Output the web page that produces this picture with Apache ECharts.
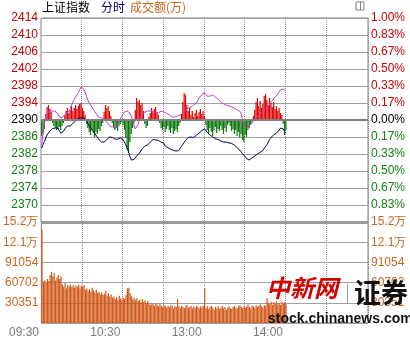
<!DOCTYPE html>
<html><head><meta charset="utf-8">
<script src="https://cdn.jsdelivr.net/npm/echarts@6/dist/echarts.min.js"></script>
<style>html,body{margin:0;padding:0;background:#fff}#c{width:410px;height:340px}</style>
</head><body><div id="c"></div>
<script>
// ---- categories: trading minutes (11:30 and 13:00 share one slot) ----
const times = [];
for (let m = 0; m <= 240; m++) {
  const t = m < 120 ? 570 + m : 780 + (m - 120);
  times.push(String(Math.floor(t / 60)).padStart(2, '0') + ':' + String(t % 60).padStart(2, '0'));
}
const timeLabels = ['09:30', '10:30', '13:00', '14:00'];

// ---- tick labels ----
const priceTicks = [2414, 2410, 2406, 2402, 2398, 2394, 2390, 2386, 2382, 2378, 2374, 2370];
const pctLabels = ['1.00%', '0.83%', '0.67%', '0.50%', '0.33%', '0.17%', '0.00%', '0.17%', '0.33%', '0.50%', '0.67%', '0.83%'];
const volLabels = ['30351', '60702', '91054', '12.1万', '15.2万'];
const prevClose = 2390;

// ---- series values ----
const indexLine = [
2383.4,2384.2,2384.9,2385.8,2386.5,2386.9,2387.4,2387.8,2388.0,2388.1,
2388.1,2388.2,2388.1,2387.5,2386.9,2386.8,2387.3,2387.9,2388.2,2388.6,
2388.6,2388.6,2388.8,2389.2,2389.4,2389.8,2390.1,2390.4,2390.5,2390.5,
2390.5,2390.5,2390.2,2389.9,2389.2,2388.7,2388.1,2387.8,2387.4,2386.9,
2386.5,2386.0,2385.5,2385.1,2384.8,2384.6,2384.8,2385.1,2385.4,2385.6,
2386.0,2386.0,2385.9,2385.8,2385.5,2385.5,2385.5,2385.8,2385.8,2385.6,
2385.3,2384.8,2384.4,2383.5,2382.5,2381.5,2380.6,2380.6,2380.7,2381.1,
2381.5,2381.9,2382.2,2382.7,2383.2,2383.6,2383.9,2384.0,2384.1,2384.5,
2384.8,2385.1,2385.4,2385.4,2385.3,2385.3,2385.2,2385.1,2384.8,2384.7,
2384.5,2383.9,2383.6,2383.5,2383.3,2383.1,2382.9,2382.9,2382.8,2382.7,
2382.7,2382.8,2383.3,2383.8,2384.2,2384.7,2385.2,2385.6,2385.9,2386.0,
2386.0,2385.9,2385.9,2386.0,2386.4,2386.6,2386.9,2387.3,2387.5,2387.6,
2387.9,2387.5,2387.1,2386.8,2386.5,2386.1,2386.0,2385.9,2385.6,2385.5,
2385.4,2385.2,2385.1,2384.9,2384.8,2384.8,2384.8,2384.7,2384.6,2384.6,
2384.5,2384.4,2384.1,2383.9,2383.5,2383.2,2382.9,2382.6,2382.1,2381.8,
2381.4,2380.9,2380.7,2380.6,2380.8,2381.1,2381.3,2381.5,2381.9,2382.0,
2382.2,2382.4,2382.6,2382.8,2383.3,2383.6,2384.2,2384.8,2385.4,2385.9,
2386.2,2386.5,2386.7,2386.9,2387.3,2387.6,2388.1,2388.2,2387.9,2387.3,2386.9
];
const leadLine = [
2384.1,2386.9,2389.1,2390.9,2391.6,2391.9,2392.1,2392.1,2392.1,2392.1,
2392.1,2391.9,2391.4,2390.7,2390.5,2390.5,2390.9,2391.2,2391.4,2391.6,
2392.1,2392.6,2393.5,2394.2,2394.9,2395.4,2395.6,2396.4,2397.1,2397.8,
2398.0,2397.3,2396.6,2395.6,2394.7,2394.0,2393.5,2393.1,2392.6,2392.1,
2391.6,2391.2,2390.7,2390.7,2390.5,2390.5,2390.2,2389.8,2389.5,2389.1,
2388.6,2388.4,2388.4,2388.1,2388.1,2388.6,2389.1,2389.5,2390.2,2390.9,
2391.4,2391.9,2392.1,2392.1,2391.9,2391.6,2390.9,2390.0,2388.8,2387.9,
2387.6,2388.8,2390.0,2390.7,2391.2,2391.6,2391.9,2391.9,2392.1,2392.1,
2392.1,2391.9,2391.9,2391.9,2391.6,2391.6,2391.6,2391.9,2392.1,2392.1,
2391.9,2391.6,2391.6,2391.4,2391.2,2390.9,2390.7,2390.7,2390.7,2390.9,
2390.9,2390.9,2391.2,2391.4,2391.6,2391.9,2392.4,2392.6,2392.8,2392.8,
2393.1,2393.3,2393.5,2393.8,2394.0,2394.5,2395.2,2395.6,2395.9,2396.4,
2396.6,2396.1,2395.6,2395.6,2395.6,2395.9,2395.9,2395.6,2395.4,2395.2,
2394.9,2394.7,2394.2,2394.0,2393.8,2393.5,2393.5,2393.3,2393.3,2393.1,
2393.1,2392.8,2392.8,2392.6,2392.4,2392.1,2392.1,2391.6,2390.0,2388.8,
2388.6,2388.1,2388.4,2388.6,2388.8,2389.3,2389.8,2390.2,2390.5,2390.7,
2391.2,2391.4,2391.6,2392.1,2392.4,2392.8,2393.1,2393.3,2393.8,2394.0,
2394.5,2394.9,2395.4,2395.6,2396.1,2396.6,2397.1,2397.5,2397.3,2397.1,2396.8
];
const strength = [
-16,-14,-9,6,13,15,11,8,-3,-6,
-8,-10,-9,-7,-10,-6,-3,5,9,12,
7,10,14,9,12,15,11,14,16,17,
12,9,5,-4,-8,-12,-15,-10,-13,-17,
-12,-14,-9,-11,-6,-3,8,15,12,14,
9,4,-3,-7,-10,-8,-11,-6,-4,-2,
-5,-10,-18,-30,-33,-22,-14,-8,-3,10,
22,18,20,15,17,9,-4,-8,-6,3,
7,12,9,11,13,8,5,-3,-8,-10,
-7,-12,-9,-6,-10,-13,-8,-14,-11,-9,
-12,-6,-3,6,18,27,25,15,9,12,
5,9,3,7,10,4,8,11,6,9,
4,-5,-10,-14,-8,-12,-16,-10,-7,-13,
-9,-11,-6,-10,-14,-8,-12,-5,-3,-6,
-11,-9,-14,-10,-16,-12,-18,-14,-20,-22,
-15,-17,-10,-8,-5,-2,4,10,18,22,
14,19,12,16,24,26,20,15,22,17,
13,18,11,14,9,12,7,5,-4,-15,-10
];
const volume = [
140000,
62000,64000,60000,66000,63000,
72000,77000,70000,75000,
64000,68000,72000,66000,70000,
58000,55000,60000,52000,57000,
55000,58000,54000,57000,53000,56000,55000,58000,52000,56000,54000,57000,
50000,52000,48000,51000,47000,53000,49000,46000,50000,45000,
47000,43000,46000,42000,44000,48000,41000,45000,40000,
43000,38000,40000,36000,39000,35000,41000,37000,34000,38000,
36000,42000,52000,53000,45000,
40000,36000,38000,34000,37000,33000,
35000,31000,36000,32000,34000,30000,33000,
29000,27000,30000,28000,26000,29000,27000,25000,28000,
26000,24000,27000,25000,23000,26000,24000,27000,25000,22000,26000,24000,
36000,
25000,23000,26000,24000,22000,25000,27000,23000,24000,26000,22000,25000,23000,26000,24000,22000,25000,23000,26000,
52000,
22000,25000,21000,24000,26000,23000,20000,24000,22000,25000,21000,23000,26000,22000,24000,
20000,23000,25000,22000,21000,24000,26000,23000,22000,25000,27000,24000,22000,26000,23000,
25000,28000,24000,22000,26000,25000,23000,27000,24000,26000,28000,25000,23000,27000,25000,
37000,30000,28000,32000,27000,31000,29000,33000,28000,30000,27000,32000,29000,31000,28000
];

// ---- styling ----
const FONT = 'Liberation Sans';
const RED = '#c80000', GREEN = '#118011', ORANGE = '#c8641e';
const VOL_UNIT = 30351;

const chart = echarts.init(document.getElementById('c'), null, {renderer: 'canvas'});
const vSplit = {show: true, interval: (i) => i % 30 === 0 && i > 0 && i < 240, lineStyle: {color: '#8c8c8c', type: [1, 1], width: 1}};
const hSplit = {show: true, lineStyle: {color: '#a0a0a0', width: 1}};
const rich = {
  r: {color: RED, fontSize: 12, fontFamily: FONT},
  g: {color: GREEN, fontSize: 12, fontFamily: FONT},
  k: {color: '#000', fontSize: 12, fontFamily: FONT},
  o: {color: ORANGE, fontSize: 12, fontFamily: FONT}
};

chart.setOption({
  animation: false,
  backgroundColor: '#fff',
  grid: [
    {left: 41, top: 18, width: 327, height: 204, show: true, borderColor: '#808080', borderWidth: 1, z: 0},
    {left: 41, top: 222, width: 327, height: 101, show: true, borderColor: '#808080', borderWidth: 1, z: 0}
  ],
  xAxis: [
    {type: 'category', gridIndex: 0, data: times, boundaryGap: true,
     axisLine: {show: false}, axisTick: {show: false}, axisLabel: {show: false}, splitLine: vSplit},
    {type: 'category', gridIndex: 1, data: times, boundaryGap: true,
     axisLine: {show: false}, axisTick: {show: false}, splitLine: vSplit,
     axisLabel: {show: true, interval: (i, v) => timeLabels.includes(v), align: 'right', margin: 4,
                 padding: [0, 3, 0, 0], color: '#7a7a7a', fontSize: 12, fontFamily: FONT}}
  ],
  yAxis: [
    {type: 'value', gridIndex: 0, position: 'left', min: 2366, max: 2414, interval: 4,
     axisLine: {show: false}, axisTick: {show: false}, splitLine: hSplit,
     axisLabel: {margin: 3, rich,
       formatter: (v) => priceTicks.includes(v) ? ('{' + (v > prevClose ? 'r' : v < prevClose ? 'g' : 'k') + '|' + v + '}') : ''}},
    {type: 'value', gridIndex: 0, position: 'right', min: -6, max: 6, interval: 1,
     axisLine: {show: false}, axisTick: {show: false}, splitLine: {show: false},
     axisLabel: {margin: 3, rich,
       formatter: (v) => {
         const k = Math.round(6 - v);
         if (k < 0 || k >= pctLabels.length) return '';
         return '{' + (v > 0 ? 'r' : v < 0 ? 'g' : 'k') + '|' + pctLabels[k] + '}';
       }}},
    {type: 'value', gridIndex: 0, min: -102, max: 102, show: false, splitLine: {show: false}},
    {type: 'value', gridIndex: 1, position: 'left', min: 0, max: VOL_UNIT * 5, interval: VOL_UNIT,
     axisLine: {show: false}, axisTick: {show: false}, splitLine: hSplit,
     axisLabel: {margin: 3, rich, formatter: (v) => { const k = Math.round(v / VOL_UNIT); return k >= 1 ? '{o|' + volLabels[k - 1] + '}' : ''; }}},
    {type: 'value', gridIndex: 1, position: 'right', min: 0, max: VOL_UNIT * 5, interval: VOL_UNIT,
     axisLine: {show: false}, axisTick: {show: false}, splitLine: {show: false},
     axisLabel: {margin: 3, rich, formatter: (v) => { const k = Math.round(v / VOL_UNIT); return k >= 1 ? '{o|' + volLabels[k - 1] + '}' : ''; }}}
  ],
  series: [
    {type: 'bar', xAxisIndex: 0, yAxisIndex: 2, data: strength, barWidth: 1.2, z: 2, silent: true, clip: false,
     itemStyle: {color: (p) => p.value >= 0 ? '#e00000' : '#0a780a'},
     markLine: {silent: true, symbol: 'none', label: {show: false}, animation: false,
       data: [{yAxis: 0, lineStyle: {color: '#808080', width: 2, type: 'solid'}},
              {yAxis: -102, lineStyle: {color: '#9a9a9a', width: 3, type: 'solid'}}]}},
    {type: 'line', xAxisIndex: 0, yAxisIndex: 0, data: leadLine, symbol: 'none', z: 3,
     lineStyle: {color: '#c83cc8', width: 1}},
    {type: 'line', xAxisIndex: 0, yAxisIndex: 0, data: indexLine, symbol: 'none', z: 4,
     lineStyle: {color: '#00005a', width: 1}},
    {type: 'bar', xAxisIndex: 1, yAxisIndex: 3, data: volume, barWidth: 1.2, z: 3, silent: true, clip: false,
     itemStyle: {color: '#d05818'}}
  ],
  graphic: [
    {type: 'text', left: 42, top: 1, style: {text: '上证指数', font: '12px "Noto Sans CJK SC"', fill: '#000'}},
    {type: 'text', left: 101, top: 1, style: {text: '分时', font: '12px "Noto Sans CJK SC"', fill: '#000070'}},
    {type: 'text', left: 130, top: 1, style: {text: '成交额(万)', font: '12px "Noto Sans CJK SC"', fill: ORANGE}},
    {type: 'rect', shape: {x: 356, y: 2, width: 8, height: 8}, style: {fill: 'none', stroke: '#808080', lineWidth: 1}},
    {type: 'line', shape: {x1: 360.5, y1: 2, x2: 360.5, y2: 10}, style: {stroke: '#808080', lineWidth: 1}},
    {type: 'text', left: 266, top: 276, z: 100, style: {text: '中新网', font: 'italic bold 24px "Noto Sans CJK SC"', fill: '#d40000'}},
    {type: 'line', z: 100, shape: {x1: 347.5, y1: 284, x2: 347.5, y2: 304}, style: {stroke: '#9a9a9a', lineWidth: 1}},
    {type: 'text', left: 354, top: 279, z: 100, style: {text: '证券', font: 'bold 27px "Noto Sans CJK SC"', fill: '#111'}},
    {type: 'text', left: 268, top: 312, z: 100, style: {text: 'stock.chinanews.com', font: 'bold 14px "Liberation Sans"', fill: '#111'}}
  ]
});
</script>
</body></html>
